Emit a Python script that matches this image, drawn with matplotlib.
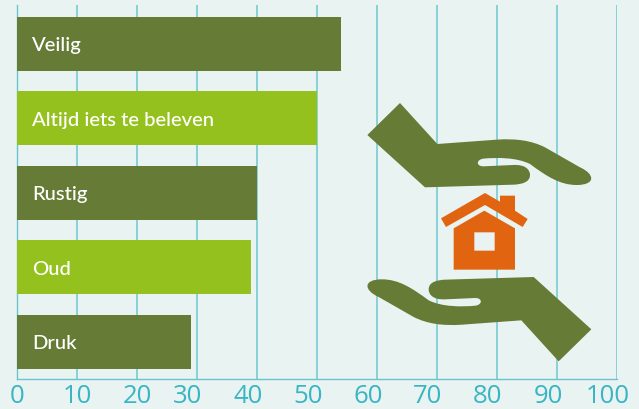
import matplotlib
matplotlib.use("Agg")
import matplotlib.pyplot as plt
from matplotlib.path import Path
from matplotlib.patches import PathPatch
from matplotlib.transforms import ScaledTranslation

categories = ["Veilig", "Altijd iets te beleven", "Rustig", "Oud", "Druk"]
values = [54, 50, 40, 39, 29]
bar_colors = ["#667B35", "#95C11F", "#667B35", "#95C11F", "#667B35"]
ticks = [0, 10, 20, 30, 40, 50, 60, 70, 80, 90, 100]

W, H = 639, 410
BG = "#E9F3F1"
fig = plt.figure(figsize=(W / 100, H / 100), dpi=100, facecolor=BG)
ax = fig.add_axes([17 / W, 1 - 379.5 / H, 600 / W, 373.5 / H], facecolor=BG)
ax.set_xlim(0, 100)
ax.set_ylim(4.49, -0.52)
ax.barh(range(len(values)), values, height=0.725, color=bar_colors, zorder=3)
ax.set_xticks(ticks)
ax.set_yticks([])
ax.grid(axis="x", color="#8AD2D8", lw=1.44, zorder=1)
ax.set_axisbelow(True)
for s in ("top", "right"):
    ax.spines[s].set_visible(False)
for s in ("left", "bottom"):
    ax.spines[s].set_color("#6CC5CE")
    ax.spines[s].set_linewidth(1.0)
ax.tick_params(axis="x", length=0, pad=3, labelsize=18.5, labelcolor="#3AB5C4")
for i, lab in enumerate(ax.get_xticklabels()):
    lab.set_fontfamily("Open Sans")
    if i >= 3:
        lab.set_transform(lab.get_transform() + ScaledTranslation(-9 / 100, 0, fig.dpi_scale_trans))

for i, c in enumerate(categories):
    ax.text(2.5, i + 0.01, c, color="white", family="Lato", fontsize=14.6, weight="medium",
            va="center", ha="left", zorder=5)

# decorative illustration, in pixel coordinates of the zoomed reference
deco = fig.add_axes([0, 0, 1, 1], facecolor="none")
deco.set_xlim(0, W)
deco.set_ylim(H, 0)
deco.axis("off")
deco.set_zorder(4)

def Z(x, y):
    return (350 + x / 3, 90 + y / 3)

M, L, C = Path.MOVETO, Path.LINETO, Path.CURVE4
hand = [
    (M, 150, 42), (L, 262, 165), (L, 440, 152),
    (C, 500, 148), (C, 545, 155), (C, 585, 175),
    (L, 690, 235),
    (C, 735, 255), (C, 738, 288), (C, 680, 288),
    (C, 630, 288), (C, 590, 262), (C, 540, 225),
    (C, 500, 205), (C, 440, 205), (C, 400, 209),
    (C, 378, 212), (C, 378, 232), (C, 400, 232),
    (L, 490, 228),
    (C, 530, 226), (C, 540, 245), (C, 540, 258),
    (C, 540, 280), (C, 515, 286), (C, 490, 287),
    (L, 225, 295), (L, 52, 138), (L, 150, 42),
]
def hand_path(rot=False):
    vs, cs = [], []
    for c, x, y in hand:
        if rot:
            x, y = 776 - x, 859 - y
        vs.append(Z(x, y))
        cs.append(c)
    return Path(vs, cs)

deco.add_patch(PathPatch(hand_path(), fc="#667B35", ec="none"))
deco.add_patch(PathPatch(hand_path(True), fc="#667B35", ec="none"))

roof = [(405, 312), (450, 338), (450, 320), (495, 320), (495, 365), (533, 390),
        (518, 414), (405, 348), (288, 414), (273, 388), (405, 312)]
deco.add_patch(PathPatch(Path([Z(*p) for p in roof]), fc="#E16511", ec="none"))
body = [(403, 365), (495, 418), (495, 542), (311, 542), (311, 418), (403, 365)]
hole = [(373, 430), (373, 485), (434, 485), (434, 430), (373, 430)]
verts = [Z(*p) for p in body] + [Z(*p) for p in hole]
codes = [M] + [L] * 5 + [M] + [L] * 4
deco.add_patch(PathPatch(Path(verts, codes), fc="#E16511", ec="none"))

fig.savefig("out.png", dpi=100, facecolor=BG)
